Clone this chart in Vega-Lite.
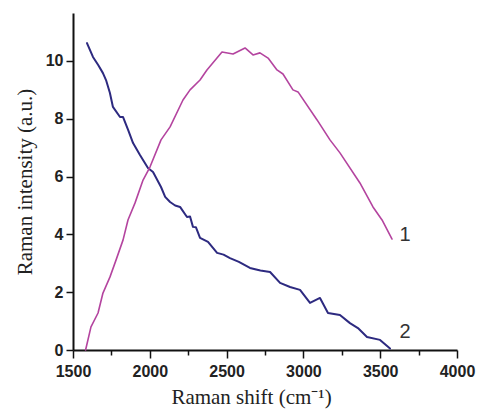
{
  "$schema": "https://vega.github.io/schema/vega-lite/v6.json",
  "width": 384,
  "height": 337,
  "autosize": {"type": "none"},
  "padding": {"left": 73, "top": 13, "right": 24, "bottom": 64},
  "background": "white",
  "config": {"view": {"stroke": null}},
  "datasets": {
    "spectra": [
      {"series": "2", "shift": 1591, "intensity": 10.62},
      {"series": "2", "shift": 1630, "intensity": 10.14},
      {"series": "2", "shift": 1665, "intensity": 9.85},
      {"series": "2", "shift": 1695, "intensity": 9.58},
      {"series": "2", "shift": 1715, "intensity": 9.34},
      {"series": "2", "shift": 1740, "intensity": 8.9},
      {"series": "2", "shift": 1760, "intensity": 8.41},
      {"series": "2", "shift": 1806, "intensity": 8.06},
      {"series": "2", "shift": 1826, "intensity": 8.06},
      {"series": "2", "shift": 1860, "intensity": 7.6},
      {"series": "2", "shift": 1891, "intensity": 7.16},
      {"series": "2", "shift": 1936, "intensity": 6.75},
      {"series": "2", "shift": 1988, "intensity": 6.3},
      {"series": "2", "shift": 2021, "intensity": 6.16},
      {"series": "2", "shift": 2073, "intensity": 5.64},
      {"series": "2", "shift": 2100, "intensity": 5.3},
      {"series": "2", "shift": 2132, "intensity": 5.12},
      {"series": "2", "shift": 2165, "intensity": 5.0},
      {"series": "2", "shift": 2197, "intensity": 4.95},
      {"series": "2", "shift": 2242, "intensity": 4.6},
      {"series": "2", "shift": 2262, "intensity": 4.62},
      {"series": "2", "shift": 2281, "intensity": 4.26},
      {"series": "2", "shift": 2300, "intensity": 4.25},
      {"series": "2", "shift": 2327, "intensity": 3.88},
      {"series": "2", "shift": 2379, "intensity": 3.74},
      {"series": "2", "shift": 2438, "intensity": 3.36},
      {"series": "2", "shift": 2480, "intensity": 3.3},
      {"series": "2", "shift": 2522, "intensity": 3.18},
      {"series": "2", "shift": 2580, "intensity": 3.05},
      {"series": "2", "shift": 2652, "intensity": 2.84},
      {"series": "2", "shift": 2720, "intensity": 2.75},
      {"series": "2", "shift": 2783, "intensity": 2.7},
      {"series": "2", "shift": 2848, "intensity": 2.32},
      {"series": "2", "shift": 2913, "intensity": 2.18},
      {"series": "2", "shift": 2978, "intensity": 2.08},
      {"series": "2", "shift": 3043, "intensity": 1.63},
      {"series": "2", "shift": 3108, "intensity": 1.8},
      {"series": "2", "shift": 3160, "intensity": 1.28},
      {"series": "2", "shift": 3238, "intensity": 1.21},
      {"series": "2", "shift": 3303, "intensity": 0.93},
      {"series": "2", "shift": 3355, "intensity": 0.76},
      {"series": "2", "shift": 3414, "intensity": 0.45},
      {"series": "2", "shift": 3499, "intensity": 0.35},
      {"series": "2", "shift": 3564, "intensity": 0.05},
      {"series": "1", "shift": 1582, "intensity": 0.0},
      {"series": "1", "shift": 1617, "intensity": 0.8},
      {"series": "1", "shift": 1663, "intensity": 1.28},
      {"series": "1", "shift": 1695, "intensity": 1.97},
      {"series": "1", "shift": 1741, "intensity": 2.53},
      {"series": "1", "shift": 1780, "intensity": 3.11},
      {"series": "1", "shift": 1826, "intensity": 3.81},
      {"series": "1", "shift": 1858, "intensity": 4.5},
      {"series": "1", "shift": 1904, "intensity": 5.09},
      {"series": "1", "shift": 1956, "intensity": 5.88},
      {"series": "1", "shift": 2001, "intensity": 6.33},
      {"series": "1", "shift": 2073, "intensity": 7.27},
      {"series": "1", "shift": 2132, "intensity": 7.72},
      {"series": "1", "shift": 2216, "intensity": 8.65},
      {"series": "1", "shift": 2262, "intensity": 9.0},
      {"series": "1", "shift": 2327, "intensity": 9.34},
      {"series": "1", "shift": 2372, "intensity": 9.69},
      {"series": "1", "shift": 2470, "intensity": 10.31},
      {"series": "1", "shift": 2542, "intensity": 10.24},
      {"series": "1", "shift": 2620, "intensity": 10.45},
      {"series": "1", "shift": 2672, "intensity": 10.21},
      {"series": "1", "shift": 2717, "intensity": 10.28},
      {"series": "1", "shift": 2770, "intensity": 10.1},
      {"series": "1", "shift": 2828, "intensity": 9.69},
      {"series": "1", "shift": 2867, "intensity": 9.55},
      {"series": "1", "shift": 2932, "intensity": 9.0},
      {"series": "1", "shift": 2965, "intensity": 8.93},
      {"series": "1", "shift": 3089, "intensity": 7.96},
      {"series": "1", "shift": 3173, "intensity": 7.27},
      {"series": "1", "shift": 3238, "intensity": 6.82},
      {"series": "1", "shift": 3368, "intensity": 5.78},
      {"series": "1", "shift": 3453, "intensity": 4.95},
      {"series": "1", "shift": 3512, "intensity": 4.5},
      {"series": "1", "shift": 3577, "intensity": 3.84}
    ],
    "labels": [
      {"series": "1", "shift": 3625, "intensity": 3.98},
      {"series": "2", "shift": 3625, "intensity": 0.62}
    ]
  },
  "encoding": {
    "x": {
      "field": "shift",
      "type": "quantitative",
      "scale": {"domain": [1500, 4000], "nice": false, "zero": false},
      "axis": {
        "title": "Raman shift (cm⁻¹)",
        "titleFont": "Liberation Serif",
        "titleFontSize": 21,
        "titleFontWeight": "normal",
        "titleColor": "#222",
        "titleX": 178,
        "titlePadding": 7,
        "values": [1500, 1750, 2000, 2250, 2500, 2750, 3000, 3250, 3500, 3750, 4000],
        "labelExpr": "datum.value % 500 === 0 ? datum.label : ''",
        "format": "d",
        "labelFont": "Liberation Sans",
        "labelFontWeight": "bold",
        "labelFontSize": 16,
        "labelColor": "#222",
        "labelPadding": 5,
        "labelFlush": false,
        "labelOverlap": false,
        "tickSize": {"condition": {"test": "datum.value % 500 === 0", "value": 8}, "value": 5},
        "tickColor": "#111",
        "tickWidth": 1.5,
        "domainColor": "#111",
        "domainWidth": 2,
        "grid": false
      }
    },
    "y": {
      "field": "intensity",
      "type": "quantitative",
      "scale": {"domain": [0, 11.66], "nice": false},
      "axis": {
        "title": "Raman intensity (a.u.)",
        "titleFont": "Liberation Serif",
        "titleFontSize": 21,
        "titleFontWeight": "normal",
        "titleColor": "#222",
        "titlePadding": 10,
        "values": [0, 2, 4, 6, 8, 10],
        "labelFont": "Liberation Sans",
        "labelFontWeight": "bold",
        "labelFontSize": 16,
        "labelColor": "#222",
        "labelPadding": 3,
        "labelFlush": false,
        "tickSize": 7,
        "tickColor": "#111",
        "tickWidth": 1.5,
        "domainColor": "#111",
        "domainWidth": 2,
        "grid": false
      }
    }
  },
  "layer": [
    {
      "data": {"name": "spectra"},
      "mark": {"type": "line", "strokeCap": "round", "strokeJoin": "round"},
      "encoding": {
        "color": {
          "field": "series",
          "type": "nominal",
          "scale": {"domain": ["1", "2"], "range": ["#b4449f", "#2d2a80"]},
          "legend": null
        },
        "strokeWidth": {
          "field": "series",
          "type": "nominal",
          "scale": {"domain": ["1", "2"], "range": [1.6, 2]},
          "legend": null
        }
      }
    },
    {
      "data": {"name": "labels"},
      "mark": {"type": "text", "align": "left", "baseline": "middle", "font": "Liberation Sans", "fontSize": 20, "color": "#333"},
      "encoding": {
        "text": {"field": "series", "type": "nominal"}
      }
    }
  ]
}
